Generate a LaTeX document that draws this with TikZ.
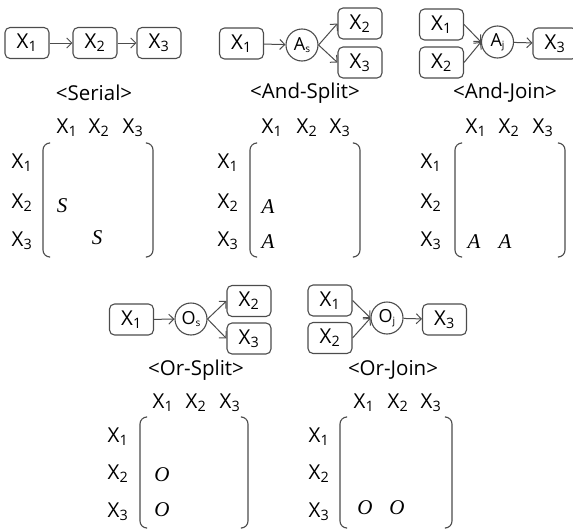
\documentclass[tikz,border=0pt]{standalone}
\usepackage{fontspec}
\setmainfont{Open Sans}
\newfontfamily\entfont{Liberation Serif}
\usepackage{tikz}
\usetikzlibrary{arrows.meta}

\definecolor{linegray}{gray}{0.3}
\newcommand{\gsub}[1]{\raisebox{-2.5pt}{\fontsize{10}{10}\selectfont #1}}
\tikzset{
	blk/.style={draw=linegray, line width=1.1pt, rounded corners=5pt, minimum width=44pt, minimum height=31pt, inner sep=0pt},
	gate/.style={draw=linegray, line width=1.1pt, circle, minimum size=32pt, inner sep=0pt, font=\fontsize{18}{20}\selectfont},
	lab/.style={inner sep=0pt},
	ent/.style={inner sep=0pt, font=\fontsize{21}{24}\entfont\itshape},
	brk/.style={draw=linegray, line width=1.1pt, rounded corners=7pt},
	flow/.style={draw=linegray, line width=1pt, ->},
}

\begin{document}
\begin{tikzpicture}[x=1pt, y=-1pt, >={Straight Barb[length=5pt,width=10pt]}, font=\fontsize{20.5}{24}\selectfont]
	\useasboundingbox (0,0) rectangle (573,530);

	\node[blk] (s1) at ( 27,43) {X\textsubscript{1}};
	\node[blk] (s2) at ( 95,43) {X\textsubscript{2}};
	\node[blk] (s3) at (159,43) {X\textsubscript{3}};
	\draw[flow] (s1) -- (s2);
	\draw[flow] (s2) -- (s3);
	\node[lab] (sname) at (94,93) {<Serial>};

	\node[blk] (as1) at (241.5,43.5) {X\textsubscript{1}};
	\node[gate] (asg) at (302,45) {A\gsub{s}};
	\node[blk] (as2) at (360,23.5) {X\textsubscript{2}};
	\node[blk] (as3) at (360,62.5) {X\textsubscript{3}};
	\draw[flow] (as1) -- (asg);
	\draw[flow] (asg.east) -- (as2.west);
	\draw[flow] (asg.east) -- (as3.west);
	\node[lab] (asname) at (305,93) {<And-Split>};

	\node[blk] (aj1) at (441.5,24.5) {X\textsubscript{1}};
	\node[blk] (aj2) at (441.5,62.5) {X\textsubscript{2}};
	\node[gate] (ajg) at (497.5,42) {A\gsub{j}};
	\node[blk] (aj3) at (555,43.5) {X\textsubscript{3}};
	\draw[flow] (aj1.east) -- (ajg.west);
	\draw[flow] (aj2.east) -- (ajg.west);
	\draw[flow] (ajg) -- (aj3);
	\node[lab] (ajname) at (505,93) {<And-Join>};

	\node[blk] (os1) at (131.5,319.5) {X\textsubscript{1}};
	\node[gate] (osg) at (191,319) {O\gsub{s}};
	\node[blk] (os2) at (249,301) {X\textsubscript{2}};
	\node[blk] (os3) at (249,338.5) {X\textsubscript{3}};
	\draw[flow] (os1) -- (osg);
	\draw[flow] (osg.east) -- (os2.west);
	\draw[flow] (osg.east) -- (os3.west);
	\node[lab] (osname) at (196,370) {<Or-Split>};

	\node[blk] (oj1) at (330,300.5) {X\textsubscript{1}};
	\node[blk] (oj2) at (330,338) {X\textsubscript{2}};
	\node[gate] (ojg) at (387,318) {O\gsub{j}};
	\node[blk] (oj3) at (444.5,319.5) {X\textsubscript{3}};
	\draw[flow] (oj1.east) -- (ojg.west);
	\draw[flow] (oj2.east) -- (ojg.west);
	\draw[flow] (ojg) -- (oj3);
	\node[lab] (ojname) at (393,370) {<Or-Join>};

	\foreach \i/\x in {1/67,2/99,3/133} \node[lab] (sc\i) at (\x,128) {X\textsubscript{\i}};
	\foreach \i/\y in {1/163,2/203,3/241} \node[lab] (sr\i) at (22,\y) {X\textsubscript{\i}};
	\draw[brk] (49,143) -- (43,143) -- (43,257) -- (49,257);
	\draw[brk] (147,143) -- (153,143) -- (153,257) -- (147,257);
	\node[ent] (se21) at (62,206) {S};
	\node[ent] (se32) at (97,238) {S};

	\foreach \i/\x in {1/272,2/307,3/340} \node[lab] (asc\i) at (\x,128) {X\textsubscript{\i}};
	\foreach \i/\y in {1/163,2/203,3/241} \node[lab] (asr\i) at (228,\y) {X\textsubscript{\i}};
	\draw[brk] (256,143) -- (250,143) -- (250,257) -- (256,257);
	\draw[brk] (354,143) -- (360,143) -- (360,257) -- (354,257);
	\node[ent] (ase21) at (268,207) {A};
	\node[ent] (ase31) at (268,242) {A};

	\foreach \i/\x in {1/476,2/509,3/543} \node[lab] (ajc\i) at (\x,128) {X\textsubscript{\i}};
	\foreach \i/\y in {1/163,2/203,3/241} \node[lab] (ajr\i) at (431,\y) {X\textsubscript{\i}};
	\draw[brk] (461,143) -- (455,143) -- (455,257) -- (461,257);
	\draw[brk] (559,143) -- (565,143) -- (565,257) -- (559,257);
	\node[ent] (aje31) at (474,242) {A};
	\node[ent] (aje32) at (505,242) {A};

	\foreach \i/\x in {1/163,2/196,3/230} \node[lab] (osc\i) at (\x,403) {X\textsubscript{\i}};
	\foreach \i/\y in {1/437,2/474,3/512} \node[lab] (osr\i) at (118,\y) {X\textsubscript{\i}};
	\draw[brk] (146,417) -- (140,417) -- (140,528) -- (146,528);
	\draw[brk] (242,417) -- (248,417) -- (248,528) -- (242,528);
	\node[ent] (ose21) at (162,475) {O};
	\node[ent] (ose31) at (162,510) {O};

	\foreach \i/\x in {1/364,2/398,3/431} \node[lab] (ojc\i) at (\x,403) {X\textsubscript{\i}};
	\foreach \i/\y in {1/437,2/474,3/512} \node[lab] (ojr\i) at (319,\y) {X\textsubscript{\i}};
	\draw[brk] (346,417) -- (340,417) -- (340,528) -- (346,528);
	\draw[brk] (446,417) -- (452,417) -- (452,528) -- (446,528);
	\node[ent] (oje31) at (365,508) {O};
	\node[ent] (oje32) at (397,508) {O};
\end{tikzpicture}
\end{document}
